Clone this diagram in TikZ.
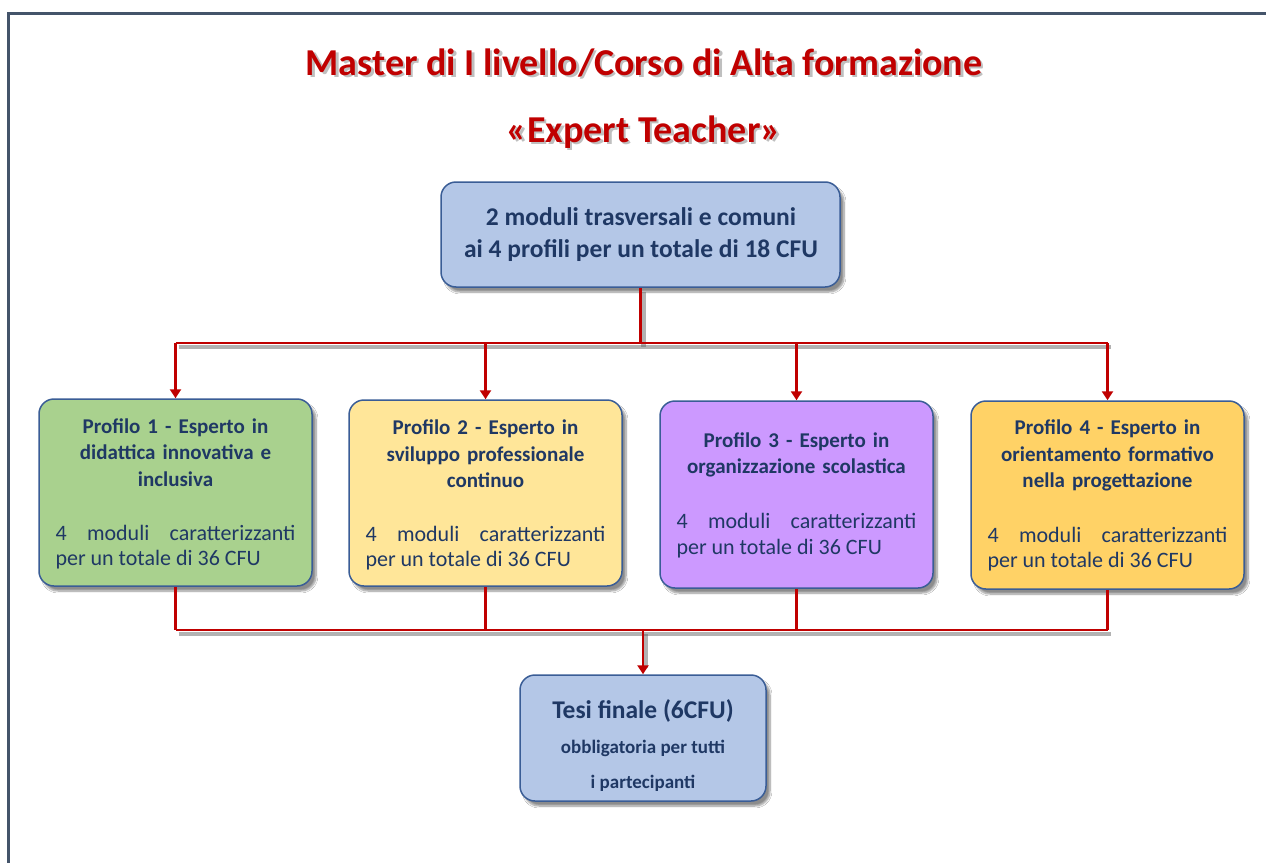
\documentclass[tikz,border=0pt]{standalone}
\usepackage{fontspec}
\setmainfont{Carlito}
\usetikzlibrary{arrows.meta,shadows.blur}
\definecolor{navy}{HTML}{1F3864}
\definecolor{redc}{HTML}{C00000}
\definecolor{bord}{HTML}{3A5D96}
\definecolor{fblue}{HTML}{B4C7E7}
\definecolor{fgreen}{HTML}{A9D18E}
\definecolor{fyellow}{HTML}{FFE699}
\definecolor{fpurple}{HTML}{CC99FF}
\definecolor{forange}{HTML}{FFD266}
\definecolor{framec}{HTML}{44546A}
\tikzset{
  boxnode/.style={draw=bord, line width=1.5pt, rounded corners=15pt, inner sep=0pt,
    blur shadow={shadow xshift=4pt, shadow yshift=-5pt, shadow blur steps=8, shadow opacity=45}},
  ptitle/.style={text=navy, font=\fontsize{21}{26.5}\selectfont\bfseries, align=center, text width=262pt, inner sep=0pt},
  ppara/.style={text=navy, font=\fontsize{22}{25.5}\selectfont, align=justify, text width=240pt, inner sep=0pt},
  conn/.style={draw=redc, line width=2.6pt},
  arr/.style={conn, -{Triangle[width=11pt,length=9pt]}},
  cshadow/.style={draw=black!60, line width=4.5pt, opacity=0.5},
  maintitle/.style={text=redc, font=\fontsize{38}{44}\selectfont\bfseries, inner sep=0pt},
  titleshadow/.style={text=black!45, font=\fontsize{38}{44}\selectfont\bfseries, inner sep=0pt, opacity=0.55},
  tesitxt/.style={text=navy, inner sep=0pt, anchor=base}
}
\begin{document}
\begin{tikzpicture}[x=1pt,y=-1pt]
\clip (0,0) rectangle (1266,862);
\fill[white] (0,0) rectangle (1266,862);
% frame
\draw[framec, line width=2.5pt] (8.5,900) -- (8.5,13.5) -- (1300,13.5);

% titles
\node[titleshadow] (t1s) at (646.5,65.5) {Master di I livello/Corso di Alta formazione};
\node[maintitle] (t1) at (644,63) {Master di I livello/Corso di Alta formazione};
\node[titleshadow] (t2s) at (646.5,134.5) {«Expert Teacher»};
\node[maintitle] (t2) at (644,132) {«Expert Teacher»};

% boxes
\node[boxnode, fill=fblue, minimum width=399pt, minimum height=105pt] (top) at (640.5,234.5) {};
\node[text=navy, font=\fontsize{25.5}{32}\selectfont\bfseries, align=center, inner sep=0pt] (toptxt) at (641,235) {2 moduli trasversali e comuni\\ai 4 profili per un totale di 18 CFU};

\node[boxnode, fill=fgreen, minimum width=273pt, minimum height=187pt] (p1) at (175.5,492.5) {};
\node[boxnode, fill=fyellow, minimum width=273pt, minimum height=186pt] (p2) at (485.5,493) {};
\node[boxnode, fill=fpurple, minimum width=273pt, minimum height=187pt] (p3) at (796.5,494.5) {};
\node[boxnode, fill=forange, minimum width=273pt, minimum height=188pt] (p4) at (1107.5,495) {};
\node[boxnode, fill=fblue, minimum width=246pt, minimum height=126pt] (tesi) at (643,738) {};

% connectors
\coordinate (busT) at (640,343);
\coordinate (busB) at (642,630);
\begin{scope}[transform canvas={xshift=3pt,yshift=-4pt}]
\draw[cshadow] (top.south) -- (top.south |- busT);
\draw[cshadow] (p1.north |- busT) -- (p4.north |- busT);
\draw[cshadow] (p1.south |- busB) -- (p4.south |- busB);
\draw[cshadow] (tesi.north |- busB) -- ([yshift=10pt]tesi.north);
\end{scope}
\draw[conn] (top.south) -- (top.south |- busT);
\draw[conn] (p1.north |- busT) -- (p4.north |- busT);
\draw[arr] (p1.north |- busT) -- (p1.north);
\draw[arr] (p2.north |- busT) -- (p2.north);
\draw[arr] (p3.north |- busT) -- (p3.north);
\draw[arr] (p4.north |- busT) -- (p4.north);
\draw[conn] (p1.south) -- (p1.south |- busB);
\draw[conn] (p2.south) -- (p2.south |- busB);
\draw[conn] (p3.south) -- (p3.south |- busB);
\draw[conn] (p4.south) -- (p4.south |- busB);
\draw[conn] (p1.south |- busB) -- (p4.south |- busB);
\draw[arr] (tesi.north |- busB) -- (tesi.north);

% profile texts
\node[ptitle] (p1t) at (175.5,452.5) {Profilo 1 - Esperto in\\didattica innovativa e\\inclusiva};
\node[ppara] (p1p) at (175.5,547) {4 moduli caratterizzanti\linebreak per un totale di 36 CFU};
\node[ptitle] (p2t) at (485.5,454) {Profilo 2 - Esperto in\\sviluppo professionale\\continuo};
\node[ppara] (p2p) at (485.5,548) {4 moduli caratterizzanti\linebreak per un totale di 36 CFU};
\node[ptitle] (p3t) at (796.5,455) {Profilo 3 - Esperto in\\organizzazione scolastica};
\node[ppara] (p3p) at (796.5,535.5) {4 moduli caratterizzanti\linebreak per un totale di 36 CFU};
\node[ptitle] (p4t) at (1107.5,455.5) {Profilo 4 - Esperto in\\orientamento formativo\\nella progettazione};
\node[ppara] (p4p) at (1107.5,549) {4 moduli caratterizzanti\linebreak per un totale di 36 CFU};

% tesi text
\node[tesitxt, font=\fontsize{25.5}{30}\selectfont\bfseries] (tesi1) at (643,718) {Tesi finale (6CFU)};
\node[tesitxt, font=\fontsize{19}{23}\selectfont\bfseries] (tesi2) at (643,753) {obbligatoria per tutti};
\node[tesitxt, font=\fontsize{19}{23}\selectfont\bfseries] (tesi3) at (643,788) {i partecipanti};
\end{tikzpicture}
\end{document}
